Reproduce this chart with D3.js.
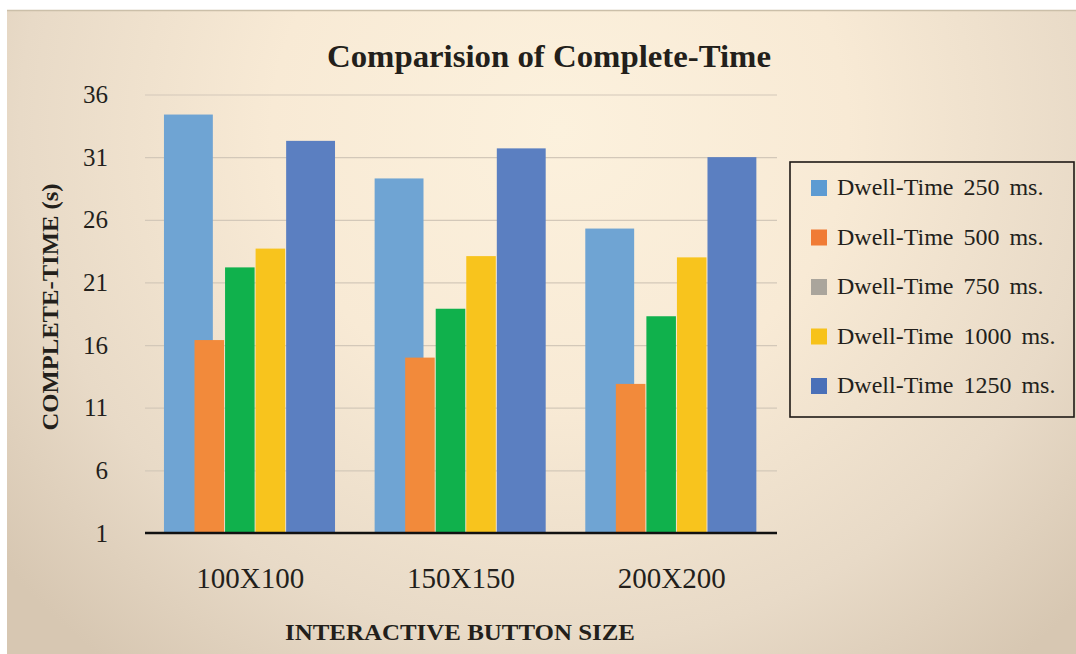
<!DOCTYPE html>
<html>
<head>
<meta charset="utf-8">
<script src="https://cdn.jsdelivr.net/npm/d3@7"></script>
<style>
  html, body { margin: 0; padding: 0; background: #ffffff; }
  svg { display: block; }
  text { font-family: "Liberation Serif", "DejaVu Serif", serif; fill: #231f1b; }
</style>
</head>
<body>
<svg id="chart" width="1076" height="654"></svg>
<script>
// Button sizes on the x axis
const categories = ["100X100", "150X150", "200X200"];

// Complete-time (s) per dwell-time setting, one value per button size
const dwell250  = [34.4, 29.3, 25.3];
const dwell500  = [16.4, 15.0, 12.9];
const dwell750  = [22.2, 18.9, 18.3];
const dwell1000 = [23.7, 23.1, 23.0];
const dwell1250 = [32.3, 31.7, 31.0];

const seriesNames = ["Dwell-Time 250 ms.", "Dwell-Time 500 ms.", "Dwell-Time 750 ms.",
                     "Dwell-Time 1000 ms.", "Dwell-Time 1250 ms."];
const seriesValues = [dwell250, dwell500, dwell750, dwell1000, dwell1250];

// y-axis tick labels
const yTicks = [1, 6, 11, 16, 21, 26, 31, 36];

// Styling
const barColors    = ["#6fa4d3", "#f28a3b", "#10b14c", "#f8c41d", "#5b7fc1"];
const legendColors = ["#5d9bd2", "#f07b35", "#aaa59c", "#f7c21a", "#4a70b8"];
const wideSeries   = new Set([0, 4]);   // outer bars drawn wider

const svg = d3.select("#chart");
const W = 1076, H = 654;

// ---- paper background ----
const defs = svg.append("defs");
const grad = defs.append("radialGradient")
  .attr("id", "paper").attr("gradientUnits", "userSpaceOnUse")
  .attr("cx", 560).attr("cy", 130).attr("r", 720)
  .attr("gradientTransform", "translate(560,130) scale(1,0.95) translate(-560,-130)");
[[0, "#fcf1dd"], [0.4, "#f8ead5"], [0.75, "#e8dac7"], [1, "#d7c7b2"]]
  .forEach(([o, c]) => grad.append("stop").attr("offset", o).attr("stop-color", c));

svg.append("rect").attr("width", W).attr("height", H).attr("fill", "#ffffff");
svg.append("rect").attr("x", 7).attr("y", 10).attr("width", W - 7).attr("height", H - 10)
  .attr("fill", "url(#paper)");
svg.append("line").attr("x1", 7).attr("x2", W).attr("y1", 10.5).attr("y2", 10.5)
  .attr("stroke", "#cbbfa9").attr("stroke-width", 1.5);

// ---- scales ----
const plotLeft = 145, plotRight = 777, plotBottom = 533, plotTop = 94.5;
const x0 = d3.scaleBand().domain(categories).range([plotLeft, plotRight]).padding(0);
const bw = x0.bandwidth();
const x1 = d3.scaleBand().domain(d3.range(seriesNames.length))
  .range([bw * 0.09, bw * 0.815]).padding(0);
const y = d3.scaleLinear().domain([1, 36]).range([plotBottom, plotTop]);

// ---- gridlines ----
svg.append("g")
  .attr("transform", `translate(0,0)`)
  .call(d3.axisLeft(y).tickValues(yTicks).tickSize(-(plotRight - plotLeft)).tickFormat(""))
  .attr("transform", `translate(${plotLeft},0)`)
  .call(g => g.select(".domain").remove())
  .call(g => g.selectAll(".tick line").attr("stroke", "#d3c8b9").attr("stroke-width", 1.2));

// ---- bars ----
const groups = svg.append("g").selectAll("g")
  .data(categories)
  .join("g")
  .attr("transform", d => `translate(${x0(d)},0)`);

groups.selectAll("rect")
  .data((c, ci) => seriesValues.map((vals, si) => ({ si, v: vals[ci] })))
  .join("rect")
  .attr("x", d => x1(d.si))
  .attr("width", d => wideSeries.has(d.si) ? x1.bandwidth() * 1.6 : x1.bandwidth() - 1)
  .attr("y", d => y(d.v))
  .attr("height", d => y(1) - y(d.v))
  .attr("fill", d => barColors[d.si]);

// ---- axes ----
svg.append("line")
  .attr("x1", plotLeft).attr("x2", plotRight)
  .attr("y1", y(1)).attr("y2", y(1))
  .attr("stroke", "#111").attr("stroke-width", 2.6);

svg.append("g").selectAll("text")
  .data(yTicks)
  .join("text")
  .attr("x", 108)
  .attr("y", d => y(d))
  .attr("dy", "0.34em")
  .attr("text-anchor", "end")
  .attr("font-size", 25)
  .text(d => d);

svg.append("g").selectAll("text")
  .data(categories)
  .join("text")
  .attr("x", d => x0(d) + bw / 2)
  .attr("y", 588)
  .attr("text-anchor", "middle")
  .attr("font-size", 29)
  .text(d => d);

// ---- titles ----
svg.append("text")
  .attr("x", 549).attr("y", 67)
  .attr("text-anchor", "middle")
  .attr("font-size", 31).attr("font-weight", "bold")
  .attr("textLength", 444).attr("lengthAdjust", "spacingAndGlyphs")
  .text("Comparision of Complete-Time");

svg.append("text")
  .attr("x", 460).attr("y", 640)
  .attr("text-anchor", "middle")
  .attr("font-size", 23).attr("font-weight", "bold")
  .attr("textLength", 350).attr("lengthAdjust", "spacingAndGlyphs")
  .text("INTERACTIVE BUTTON SIZE");

svg.append("text")
  .attr("transform", "translate(58,307) rotate(-90)")
  .attr("text-anchor", "middle")
  .attr("font-size", 23).attr("font-weight", "bold")
  .attr("textLength", 247).attr("lengthAdjust", "spacingAndGlyphs")
  .text("COMPLETE-TIME (s)");

// ---- legend ----
const legend = svg.append("g");
legend.append("rect")
  .attr("x", 790).attr("y", 162).attr("width", 284).attr("height", 255)
  .attr("fill", "none").attr("stroke", "#1e1a16").attr("stroke-width", 1.6);

const rowY = d3.scalePoint().domain(d3.range(seriesNames.length)).range([187, 385]);
const items = legend.selectAll("g.item")
  .data(seriesNames)
  .join("g").attr("class", "item")
  .attr("transform", (d, i) => `translate(0,${rowY(i)})`);
items.append("rect")
  .attr("x", 811).attr("y", -7).attr("width", 16).attr("height", 16)
  .attr("fill", (d, i) => legendColors[i]);
items.append("text")
  .attr("x", 837).attr("y", 8)
  .attr("font-size", 24)
  .attr("word-spacing", 4)
  .text(d => d);
</script>
</body>
</html>
